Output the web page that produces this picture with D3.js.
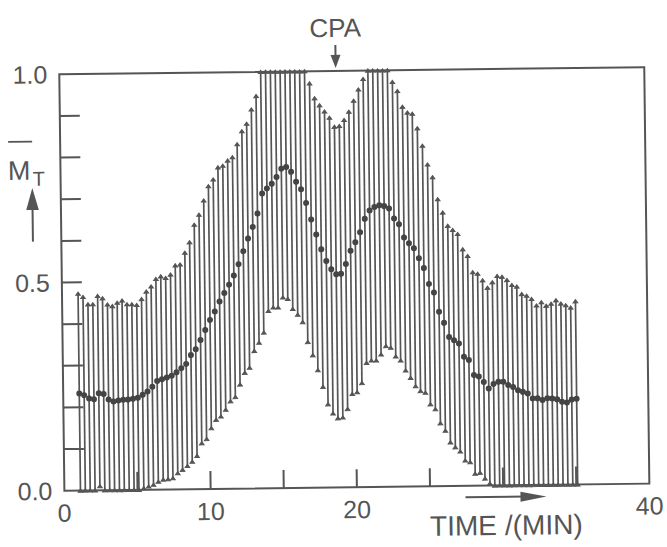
<!DOCTYPE html>
<html>
<head>
<meta charset="utf-8">
<script src="https://cdn.jsdelivr.net/npm/d3@7"></script>
<style>
  body { margin: 0; background: #fff; }
  svg { display: block; }
  text { font-family: "Liberation Sans", Arial, Helvetica, sans-serif; fill: #555; }
</style>
</head>
<body>
<svg id="chart"></svg>
<script>
// sampling grid (minutes): one measurement every 20 s
const tStart = 1.1, tStep = 1 / 3;

// upper end of each error bar (clipped at 1.0)
const upper = [
  0.473, 0.465, 0.447, 0.447, 0.467, 0.461, 0.446, 0.442, 0.450, 0.455,
  0.446, 0.446, 0.444, 0.458, 0.476, 0.488, 0.506, 0.512, 0.508, 0.516,
  0.538, 0.540, 0.568, 0.593, 0.635, 0.659, 0.693, 0.727, 0.743, 0.772,
  0.776, 0.788, 0.796, 0.827, 0.858, 0.876, 0.910, 0.942, 1.0, 1.0,
  1.0, 1.0, 1.0, 1.0, 1.0, 1.0, 1.0, 1.0, 0.971, 0.935,
  0.918, 0.903, 0.888, 0.866, 0.868, 0.882, 0.902, 0.928, 0.955, 0.980,
  1.0, 1.0, 1.0, 1.0, 1.0, 0.972, 0.950, 0.912, 0.898, 0.895,
  0.860, 0.818, 0.773, 0.742, 0.689, 0.657, 0.625, 0.615, 0.605, 0.568,
  0.552, 0.513, 0.509, 0.493, 0.475, 0.488, 0.503, 0.501, 0.493, 0.481,
  0.477, 0.459, 0.455, 0.447, 0.431, 0.439, 0.430, 0.435, 0.443, 0.435,
  0.431, 0.425, 0.440
];

// mean value M_T
const mean = [
  0.233, 0.229, 0.221, 0.219, 0.233, 0.231, 0.218, 0.213, 0.215, 0.217,
  0.217, 0.219, 0.221, 0.228, 0.236, 0.247, 0.261, 0.265, 0.269, 0.273,
  0.281, 0.291, 0.301, 0.322, 0.336, 0.358, 0.382, 0.406, 0.426, 0.450,
  0.470, 0.490, 0.512, 0.539, 0.570, 0.600, 0.628, 0.660, 0.708, 0.720,
  0.731, 0.747, 0.767, 0.771, 0.759, 0.735, 0.717, 0.684, 0.644, 0.608,
  0.572, 0.544, 0.524, 0.512, 0.513, 0.536, 0.568, 0.588, 0.612, 0.644,
  0.664, 0.672, 0.676, 0.674, 0.668, 0.644, 0.630, 0.598, 0.584, 0.572,
  0.548, 0.524, 0.486, 0.465, 0.419, 0.392, 0.358, 0.350, 0.342, 0.310,
  0.302, 0.266, 0.262, 0.249, 0.233, 0.244, 0.249, 0.249, 0.241, 0.236,
  0.228, 0.224, 0.220, 0.208, 0.208, 0.204, 0.208, 0.207, 0.205, 0.199,
  0.197, 0.204, 0.206
];

// lower end of each error bar (clipped at 0.0)
const lower = [
  0, 0, 0, 0, 0.010, 0, 0, 0, 0, 0,
  0, 0, 0, 0.004, 0.008, 0.012, 0.019, 0.024, 0.025, 0.027,
  0.039, 0.047, 0.056, 0.066, 0.080, 0.110, 0.120, 0.146, 0.166, 0.174,
  0.190, 0.210, 0.220, 0.250, 0.278, 0.290, 0.330, 0.350, 0.374, 0.426,
  0.434, 0.434, 0.458, 0.454, 0.430, 0.416, 0.398, 0.350, 0.318, 0.282,
  0.242, 0.200, 0.178, 0.166, 0.168, 0.188, 0.224, 0.228, 0.250, 0.298,
  0.304, 0.304, 0.318, 0.338, 0.334, 0.313, 0.303, 0.279, 0.261, 0.241,
  0.229, 0.225, 0.197, 0.185, 0.151, 0.133, 0.105, 0.093, 0.083, 0.061,
  0.057, 0.029, 0.031, 0.017, 0.005, 0, 0, 0, 0, 0,
  0, 0, 0, 0, 0, 0, 0, 0, 0, 0,
  0, 0, 0
];

const yTicks = [0.1, 0.2, 0.3, 0.4, 0.5, 0.6, 0.7, 0.8, 0.9];
const yLabels = [0, 0.5, 1.0];
const xTicks = [5, 10, 15, 20, 25, 30, 35];
const xLabels = [0, 10, 20, 40];
const cpaTime = 18.9;

const width = 667, height = 547;
const pw = 585, ph = 416.5;
const ink = "#555";

const data = mean.map((m, i) => ({ t: tStart + i * tStep, m, hi: upper[i], lo: lower[i] }));

const x = d3.scaleLinear().domain([0, 40]).range([0, pw]);
const y = d3.scaleLinear().domain([0, 1]).range([ph, 0]);

const svg = d3.select("#chart").attr("width", width).attr("height", height);
svg.append("rect").attr("width", width).attr("height", height).attr("fill", "#fff");

// the original is a slightly skewed scan, so the whole figure is turned a little
const g = svg.append("g").attr("transform", "translate(59.3,74.3) rotate(-0.7)");

// error bars
const bars = g.append("g").attr("stroke", ink);
bars.selectAll("line")
  .data(data)
  .join("line")
    .attr("x1", d => x(d.t)).attr("x2", d => x(d.t))
    .attr("y1", d => y(d.lo)).attr("y2", d => y(d.hi))
    .attr("stroke-width", 1.7);

const ends = data.flatMap(d => [{ t: d.t, v: d.hi }, { t: d.t, v: d.lo }]);
bars.append("g").selectAll("path")
  .data(ends)
  .join("path")
    .attr("d", d => `M${x(d.t) - 2.3},${y(d.v) + 1.6}L${x(d.t)},${y(d.v) - 1.6}L${x(d.t) + 2.3},${y(d.v) + 1.6}Z`)
    .attr("fill", ink)
    .attr("stroke-width", 1);

// mean markers
g.append("g").selectAll("circle")
  .data(data)
  .join("circle")
    .attr("cx", d => x(d.t))
    .attr("cy", d => y(d.m))
    .attr("r", 3)
    .attr("fill", "#444");

// frame
g.append("rect")
  .attr("width", pw).attr("height", ph)
  .attr("fill", "none").attr("stroke", ink).attr("stroke-width", 2);

// inward ticks
g.append("g").selectAll("line")
  .data(yTicks)
  .join("line")
    .attr("x1", 0).attr("x2", 20)
    .attr("y1", d => y(d)).attr("y2", d => y(d))
    .attr("stroke", ink).attr("stroke-width", 2);

g.append("g").selectAll("line")
  .data(xTicks)
  .join("line")
    .attr("x1", d => x(d)).attr("x2", d => x(d))
    .attr("y1", ph).attr("y2", ph - 18)
    .attr("stroke", ink).attr("stroke-width", 2);

// tick labels
g.append("g").selectAll("text")
  .data(yLabels)
  .join("text")
    .attr("x", -12)
    .attr("y", d => y(d) + 9)
    .attr("text-anchor", "end")
    .attr("font-size", 25)
    .text(d3.format(".1f"));

g.append("g").selectAll("text")
  .data(xLabels)
  .join("text")
    .attr("x", d => x(d))
    .attr("y", ph + 31)
    .attr("text-anchor", "middle")
    .attr("font-size", 25)
    .text(d => d);

// CPA marker
const cx = x(cpaTime);
g.append("text")
  .attr("x", cx).attr("y", -34)
  .attr("text-anchor", "middle")
  .attr("font-size", 26)
  .text("CPA");
g.append("line")
  .attr("x1", cx).attr("x2", cx).attr("y1", -26).attr("y2", -14)
  .attr("stroke", ink).attr("stroke-width", 2);
g.append("path")
  .attr("d", `M${cx - 5},-16L${cx + 5},-16L${cx},-3Z`)
  .attr("fill", ink);

// x axis title with arrow
g.append("line")
  .attr("x1", 401).attr("x2", 462).attr("y1", 428).attr("y2", 428)
  .attr("stroke", ink).attr("stroke-width", 2);
g.append("path")
  .attr("d", "M456,423L482,428L456,433Z")
  .attr("fill", ink);
g.append("text")
  .attr("x", 365).attr("y", 466)
  .attr("font-size", 28)
  .attr("textLength", 153)
  .attr("lengthAdjust", "spacingAndGlyphs")
  .text("TIME /(MIN)");

// y axis title: M bar with subscript T, and arrow
g.append("line")
  .attr("x1", -52).attr("x2", -28).attr("y1", 67).attr("y2", 67)
  .attr("stroke", ink).attr("stroke-width", 1.8);
g.append("text")
  .attr("x", -52.5).attr("y", 105)
  .attr("font-size", 27)
  .text("M");
g.append("text")
  .attr("x", -28).attr("y", 111)
  .attr("font-size", 20)
  .text("T");
g.append("line")
  .attr("x1", -28.4).attr("x2", -28.4).attr("y1", 132).attr("y2", 167)
  .attr("stroke", ink).attr("stroke-width", 2);
g.append("path")
  .attr("d", "M-34.7,135.4L-22.1,135.4L-28.4,113.4Z")
  .attr("fill", ink);
</script>
</body>
</html>
